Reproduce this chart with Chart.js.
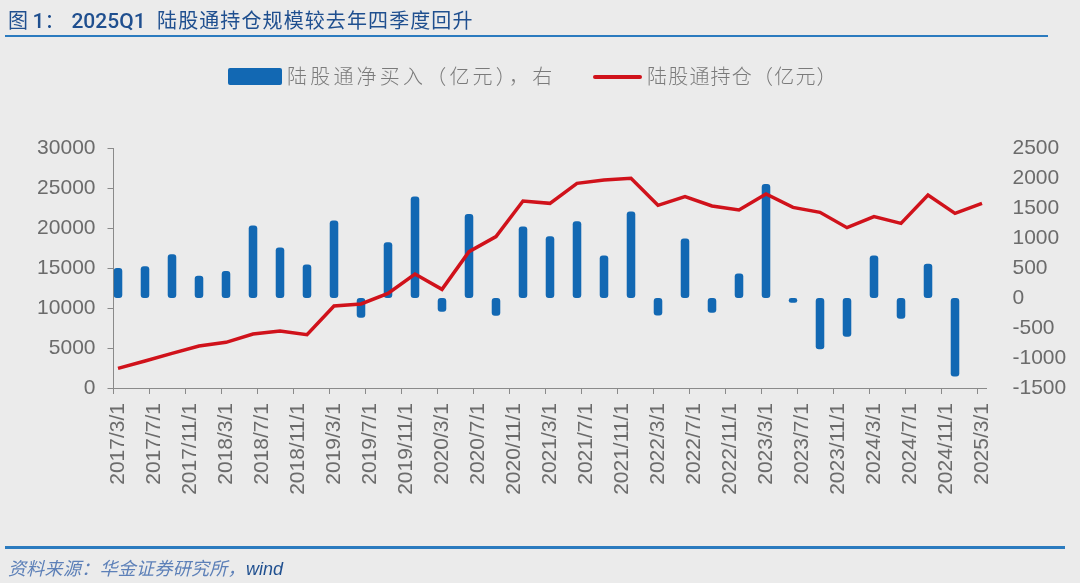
<!DOCTYPE html>
<html>
<head>
<meta charset="utf-8">
<script src="https://cdn.jsdelivr.net/npm/chart.js@4.4.1/dist/chart.umd.min.js"></script>
<style>
  html, body { margin: 0; padding: 0; background: #ebebeb; }
  #wrap { position: relative; width: 1080px; height: 583px; overflow: hidden; background: #ebebeb; }
  #chart { position: absolute; left: 0; top: 0; }
  .title { position: absolute; left: 8px; top: 5px; font: 20px 'Noto Sans CJK SC', sans-serif; color: #1f4f8f; white-space: nowrap; }
  .title .lat { font-family: Roboto, 'Liberation Sans', sans-serif; font-weight: 500; font-size: 21px; }
  .title .cn { letter-spacing: 1.1px; margin-left: 7px; }
  .rule { position: absolute; left: 5px; height: 2px; background: #2b7bbf; }
  .legend { position: absolute; top: 61px; font: 20px 'Noto Sans CJK SC', sans-serif; font-weight: 300; color: #7a7a7a; white-space: nowrap; }
  .swatch-bar { position: absolute; left: 228px; top: 68px; width: 54px; height: 17px; background: #1268b3; border-radius: 2px; }
  .swatch-line { position: absolute; left: 593px; top: 75px; width: 49px; height: 4px; background: #d0121b; border-radius: 2px; }
  .source { position: absolute; left: 8px; top: 554px; font: italic 18px 'Noto Sans CJK SC', sans-serif; color: #5d80b8; letter-spacing: 0.3px; white-space: nowrap; }
  .source span { font-family: 'Liberation Sans', Arial, sans-serif; color: #1f4f8f; letter-spacing: 0; }
</style>
</head>
<body>
<div id="wrap">
  <canvas id="chart" width="1080" height="583"></canvas>
  <div class="title">图 <span class="lat">1</span>：<span class="lat" style="margin-left:7px;">2025Q1</span> <span class="cn">陆股通持仓规模较去年四季度回升</span></div>
  <div class="rule" style="top:35px; width:1043px;"></div>
  <div class="swatch-bar"></div>
  <div class="legend" style="left:287px; letter-spacing:3.2px;">陆股通净买入（亿元），右</div>
  <div class="swatch-line"></div>
  <div class="legend" style="left:647px; letter-spacing:1.2px;">陆股通持仓（亿元）</div>
  <div class="rule" style="top:546px; width:1060px; height:3px;"></div>
  <div class="source">资料来源：华金证券研究所，<span>wind</span></div>
</div>
<script>
// ---------- Data (quarterly) ----------
const QUARTERS = [
  '2017/3/1', '2017/6/1', '2017/9/1', '2017/12/1',
  '2018/3/1', '2018/6/1', '2018/9/1', '2018/12/1',
  '2019/3/1', '2019/6/1', '2019/9/1', '2019/12/1',
  '2020/3/1', '2020/6/1', '2020/9/1', '2020/12/1',
  '2021/3/1', '2021/6/1', '2021/9/1', '2021/12/1',
  '2022/3/1', '2022/6/1', '2022/9/1', '2022/12/1',
  '2023/3/1', '2023/6/1', '2023/9/1', '2023/12/1',
  '2024/3/1', '2024/6/1', '2024/9/1', '2024/12/1',
  '2025/3/1'
];

// 陆股通净买入（亿元），right axis
const NET_BUY = [
  500, 530, 730, 370, 450, 1210, 840, 560,
  1290, -330, 930, 1690, -230, 1400, -295, 1190,
  1030, 1280, 710, 1440, -290, 990, -245, 410,
  1900, -80, -855, -645, 710, -345, 570, -1310,
  null
];

// 陆股通持仓（亿元），left axis
const HOLDINGS = [
  2460, 3380, 4330, 5250, 5710, 6750, 7130, 6670,
  10250, 10500, 11830, 14250, 12330, 17040, 18920, 23380,
  23080, 25580, 26000, 26210, 22830, 23920, 22750, 22250,
  24250, 22580, 21960, 20040, 21420, 20580, 24130, 21830,
  23080
];

// ---------- Month axis (date axis, labels every 4 months) ----------
const months = [];
for (let y = 2017; y <= 2025; y++) {
  for (let m = 1; m <= 12; m++) {
    if (y === 2017 && m < 3) continue;
    if (y === 2025 && m > 3) continue;
    months.push(y + '/' + m + '/1');
  }
}
const qIdx = {};
QUARTERS.forEach((q, i) => qIdx[q] = i);
const barData = months.map(m => (m in qIdx ? NET_BUY[qIdx[m]] : null));
const lineData = months.map(m => (m in qIdx ? HOLDINGS[qIdx[m]] : null));

const AXIS = '#8a8a8a';
const TICK_TXT = '#6b6b6b';
const NUM_FONT = { family: "'Liberation Sans', Arial, sans-serif", size: 21 };

new Chart(document.getElementById('chart'), {
  type: 'bar',
  data: {
    labels: months,
    datasets: [
      {
        type: 'line',
        label: '陆股通持仓（亿元）',
        data: lineData,
        yAxisID: 'y',
        borderColor: '#d0121b',
        borderWidth: 3.5,
        pointRadius: 0,
        spanGaps: true,
        tension: 0,
        order: 0,
      },
      {
        type: 'bar',
        label: '陆股通净买入（亿元），右',
        data: barData,
        yAxisID: 'y1',
        backgroundColor: '#1268b3',
        barPercentage: 0.95,
        categoryPercentage: 1,
        borderRadius: 3,
        borderSkipped: false,
        order: 1,
      }
    ]
  },
  options: {
    responsive: false,
    animation: false,
    layout: { padding: { top: 148, left: 0, right: 0, bottom: 0 } },
    plugins: { legend: { display: false }, tooltip: { enabled: false } },
    scales: {
      x: {
        offset: true,
        border: { display: true, color: AXIS, width: 1 },
        grid: {
          offset: true,
          drawOnChartArea: false,
          drawTicks: true,
          tickLength: 6,
          color: ctx => (ctx.index % 4 === 0 && ctx.index < months.length ? AXIS : 'rgba(0,0,0,0)'),
        },
        ticks: {
          autoSkip: false,
          minRotation: 90,
          maxRotation: 90,
          padding: 9,
          color: TICK_TXT,
          font: NUM_FONT,
          callback: (v, i) => (i % 4 === 0 ? months[i] : ''),
        },
        afterFit: s => { s.height = 195; },
      },
      y: {
        position: 'left',
        min: 0, max: 30000,
        border: { display: true, color: AXIS, width: 1 },
        grid: { drawOnChartArea: false, drawTicks: true, tickLength: 6, color: AXIS },
        ticks: { stepSize: 5000, padding: 12, color: TICK_TXT, font: NUM_FONT, callback: v => String(v) },
        afterFit: s => { s.width = 113.5; },
      },
      y1: {
        position: 'right',
        min: -1500, max: 2500,
        border: { display: false },
        grid: { display: false },
        ticks: { stepSize: 500, padding: 18, color: TICK_TXT, font: NUM_FONT, callback: v => String(v) },
        afterFit: s => { s.width = 93.5; },
      }
    }
  }
});
</script>
</body>
</html>
